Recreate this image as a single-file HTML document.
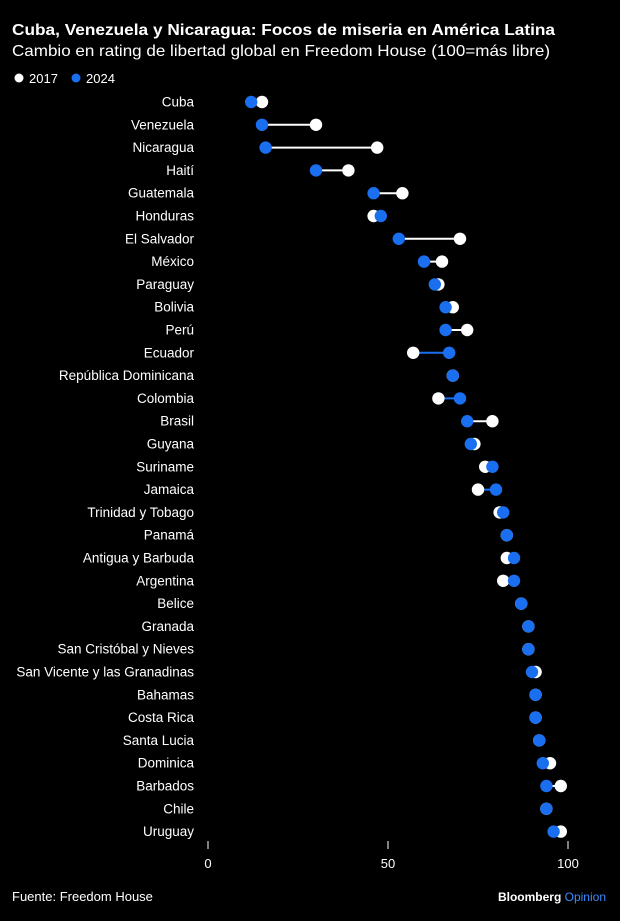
<!DOCTYPE html>
<html><head><meta charset="utf-8"><style>
body{margin:0;background:#000;width:620px;height:916px;overflow:hidden;font-family:"Liberation Sans",sans-serif;color:#fff}
</style></head><body>
<svg width="620" height="916">
<text x="12" y="35" font-size="16" font-weight="bold" fill="#fff" textLength="543" lengthAdjust="spacingAndGlyphs">Cuba, Venezuela y Nicaragua: Focos de miseria en América Latina</text>
<text x="12" y="56" font-size="16" fill="#fff" textLength="538" lengthAdjust="spacingAndGlyphs">Cambio en rating de libertad global en Freedom House (100=más libre)</text>
<g>
<circle cx="19" cy="78" r="4.5" fill="#fff"/>
<text x="29" y="83" font-size="13" fill="#fff">2017</text>
<circle cx="76" cy="78" r="4.5" fill="#1a6ff0"/>
<text x="86" y="83" font-size="13" fill="#fff">2024</text>
</g>
<g id="plot"></g>
<g id="axis"></g>
<text x="12" y="901" font-size="13" fill="#fff">Fuente: Freedom House</text>
<text x="606" y="901" font-size="12" text-anchor="end"><tspan fill="#fff" font-weight="bold">Bloomberg</tspan><tspan fill="#3d8bff"> Opinion</tspan></text>
</svg>
<script>
const categories=["Cuba","Venezuela","Nicaragua","Haití","Guatemala","Honduras","El Salvador","México","Paraguay","Bolivia","Perú","Ecuador","República Dominicana","Colombia","Brasil","Guyana","Suriname","Jamaica","Trinidad y Tobago","Panamá","Antigua y Barbuda","Argentina","Belice","Granada","San Cristóbal y Nieves","San Vicente y las Granadinas","Bahamas","Costa Rica","Santa Lucia","Dominica","Barbados","Chile","Uruguay"];
const values2017=[15,30,47,39,54,46,70,65,64,68,72,57,68,64,79,74,77,75,81,83,83,82,87,89,89,91,91,91,92,95,98,94,98];
const values2024=[12,15,16,30,46,48,53,60,63,66,66,67,68,70,72,73,79,80,82,83,85,85,87,89,89,90,91,91,92,93,94,94,96];
const ticks=[0,50,100];
const NS="http://www.w3.org/2000/svg";
const x=v=>208+v*3.6;
const y=i=>102+i*22.8;
const plot=document.getElementById('plot'),axis=document.getElementById('axis');
function mk(tag,attrs,parent){const e=document.createElementNS(NS,tag);for(const k in attrs)e.setAttribute(k,attrs[k]);parent.appendChild(e);return e;}
const BLUE="#1a6ff0";
categories.forEach((c,i)=>{
  const g=mk('g',{},plot);
  
  
  const t=mk('text',{x:194,y:y(i)+4.5,'font-size':13.5,'text-anchor':'end',fill:'#fff'},g);
  t.textContent=c;
  
  
  const a=values2017[i],b=values2024[i];
  const ln=mk('line',{x1:x(a),x2:x(b),y1:y(i),y2:y(i),stroke:b>a?BLUE:'#fff','stroke-width':2},g);
  
  
  const d1=mk('circle',{cx:x(a),cy:y(i),r:6.2,fill:'#fff'},g);
  
  
  const d2=mk('circle',{cx:x(b),cy:y(i),r:6.2,fill:BLUE},g);
  
  
});
ticks.forEach(v=>{
  const tk=mk('line',{x1:x(v),x2:x(v),y1:841,y2:849,stroke:'#fff','stroke-width':1},axis);
  
  
  const tl=mk('text',{x:x(v),y:868,'font-size':13,'text-anchor':'middle',fill:'#fff'},axis);
  tl.textContent=v;
  
  
});
</script>
</body></html>
